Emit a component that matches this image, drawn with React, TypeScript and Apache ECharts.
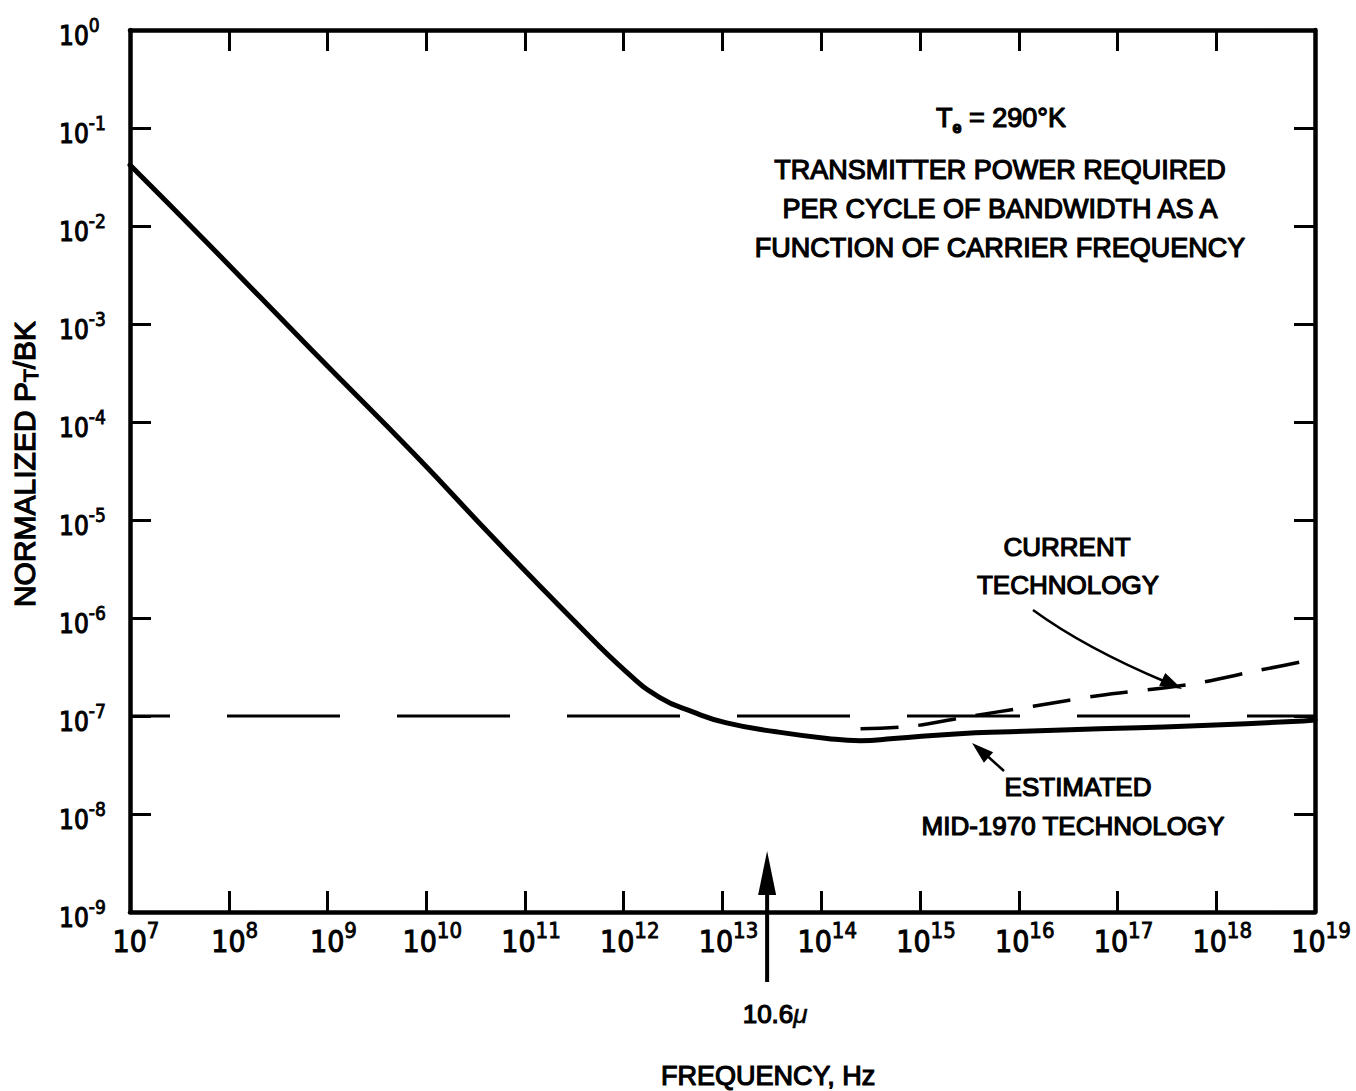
import React, { useEffect, useRef } from "react";
import * as echarts from "echarts";

// ---- data ----
const frequencyMin = 1e7;
const frequencyMax = 1e19;
const powerMin = 1e-9;
const powerMax = 1;

// Estimated mid-1970 technology (solid curve)
const estimatedFrequency = [
  1e7, 6.0e7, 7.2e8, 7.9e9, 4.7e10, 3.1e11, 1.07e12, 2.3e12, 5.0e12, 1.1e13,
  3.5e13, 1.15e14, 2.5e14, 5.4e14, 2.5e15, 8.1e15, 6.6e16, 5.4e17, 7.6e18, 1e19,
];
const estimatedPower = [
  4.2e-2, 6.8e-3, 5.2e-4, 4.5e-5, 6.7e-6, 9.5e-7, 2.8e-7, 1.55e-7, 1.1e-7, 8.5e-8,
  6.9e-8, 5.9e-8, 5.6e-8, 5.9e-8, 6.6e-8, 6.9e-8, 7.4e-8, 7.9e-8, 8.9e-8, 9.1e-8,
];

// Current technology (dashed curve)
const currentFrequency = [2.5e14, 8.5e14, 2.5e15, 1.4e16, 6.6e16, 5.4e17, 2.6e18, 1e19];
const currentPower = [7.4e-8, 7.9e-8, 9.5e-8, 1.26e-7, 1.62e-7, 2.1e-7, 2.9e-7, 3.8e-7];

// Reference level (long dashes)
const referenceFrequency = [1e7, 1e19];
const referencePower = [1e-7, 1e-7];

// 10.6 micron CO2 laser line
const co2LaserFrequency = 2.83e13;

const titleLines = [
  "TRANSMITTER POWER REQUIRED",
  "PER CYCLE OF BANDWIDTH AS A",
  "FUNCTION OF CARRIER FREQUENCY",
];

const FONT = "'Liberation Sans', Arial, sans-serif";
const NARROW =
  "'Liberation Sans Narrow', 'DejaVu Sans Condensed', 'Liberation Sans', sans-serif";

const zip = (xs: number[], ys: number[]) => xs.map((x, i) => [x, ys[i]]);
const expOf = (v: number) => Math.round(Math.log10(v));

function arrowHead(
  tip: number[],
  dir: number[],
  len: number,
  half: number
): number[][] {
  const n = Math.hypot(dir[0], dir[1]);
  const ux = dir[0] / n;
  const uy = dir[1] / n;
  const bx = tip[0] - ux * len;
  const by = tip[1] - uy * len;
  return [
    [tip[0], tip[1]],
    [bx - uy * half, by + ux * half],
    [bx + uy * half, by - ux * half],
  ];
}

export default function App() {
  const ref = useRef<HTMLDivElement>(null);

  useEffect(() => {
    const chart = echarts.init(ref.current!, null, { renderer: "svg" });

    const axisLine = { show: true, lineStyle: { color: "#000", width: 4.5 } };
    const axisTick = {
      show: true,
      inside: true,
      length: 21,
      interval: 0,
      lineStyle: { color: "#000", width: 3 },
    };

    const xLabel = {
      show: true,
      interval: 0,
      margin: 7,
      padding: [0, 0, 0, 12],
      formatter: (v: number) => `{b|10}{s|${expOf(v)}}`,
      rich: {
        b: {
          fontFamily: NARROW,
          fontSize: 30,
          lineHeight: 44,
          color: "#000",
          textBorderColor: "#000",
          textBorderWidth: 1,
        },
        s: {
          fontFamily: NARROW,
          fontSize: 22,
          lineHeight: 22,
          verticalAlign: "top",
          color: "#000",
          textBorderColor: "#000",
          textBorderWidth: 0.8,
        },
      },
    };

    const yLabel = {
      show: true,
      interval: 0,
      margin: 71,
      align: "left",
      padding: [12, 0, 0, 0],
      formatter: (v: number) => `{b|10}{s|${expOf(v)}}`,
      rich: {
        b: {
          fontFamily: NARROW,
          fontSize: 26,
          lineHeight: 42,
          color: "#000",
          textBorderColor: "#000",
          textBorderWidth: 1,
        },
        s: {
          fontFamily: NARROW,
          fontSize: 19,
          lineHeight: 19,
          verticalAlign: "top",
          color: "#000",
          textBorderColor: "#000",
          textBorderWidth: 0.8,
        },
      },
    };

    chart.setOption({
      animation: false,
      backgroundColor: "#ffffff",
      grid: { left: 130, right: 41, top: 30, bottom: 179, containLabel: false },
      xAxis: [
        {
          type: "log",
          logBase: 10,
          min: frequencyMin,
          max: frequencyMax,
          interval: 1,
          splitNumber: 12,
          position: "bottom",
          axisLine,
          axisTick,
          axisLabel: { ...xLabel, showMinLabel: true, showMaxLabel: true },
          splitLine: { show: false },
          minorTick: { show: false },
        },
        {
          type: "log",
          logBase: 10,
          min: frequencyMin,
          max: frequencyMax,
          interval: 1,
          splitNumber: 12,
          position: "top",
          axisLine,
          axisTick,
          axisLabel: { show: false },
          splitLine: { show: false },
        },
      ],
      yAxis: [
        {
          type: "log",
          logBase: 10,
          min: powerMin,
          max: powerMax,
          interval: 1,
          splitNumber: 9,
          position: "left",
          axisLine,
          axisTick,
          axisLabel: { ...yLabel, showMinLabel: true, showMaxLabel: true },
          splitLine: { show: false },
        },
        {
          type: "log",
          logBase: 10,
          min: powerMin,
          max: powerMax,
          interval: 1,
          splitNumber: 9,
          position: "right",
          axisLine,
          axisTick,
          axisLabel: { show: false },
          splitLine: { show: false },
        },
      ],
      series: [
        {
          name: "Reference",
          type: "line",
          xAxisIndex: 0,
          yAxisIndex: 0,
          data: zip(referenceFrequency, referencePower),
          showSymbol: false,
          symbol: "none",
          z: 1,
          lineStyle: {
            color: "#000",
            width: 3,
            type: [113, 57],
            dashOffset: 73,
            cap: "butt",
          },
        },
        {
          name: "Current technology",
          type: "line",
          xAxisIndex: 0,
          yAxisIndex: 0,
          data: zip(currentFrequency, currentPower),
          showSymbol: false,
          symbol: "none",
          smooth: 0.3,
          z: 2,
          lineStyle: { color: "#000", width: 3.5, type: [38, 20], cap: "butt" },
        },
        {
          name: "Estimated mid-1970 technology",
          type: "line",
          xAxisIndex: 0,
          yAxisIndex: 0,
          data: zip(estimatedFrequency, estimatedPower),
          showSymbol: false,
          symbol: "none",
          smooth: 0.5,
          z: 3,
          lineStyle: { color: "#000", width: 5, cap: "round", join: "round" },
        },
      ],
    });

    // ---- annotations ----
    const base = chart.convertToPixel({ xAxisIndex: 0, yAxisIndex: 0 }, [
      co2LaserFrequency,
      powerMin,
    ]) as number[];
    const ax = base[0];
    const yb = base[1];

    const tok = (fontSize: number, extra: any = {}) => ({
      fontFamily: FONT,
      fontSize,
      fill: "#000",
      stroke: "#000",
      lineWidth: 1.2,
      ...extra,
    });

    const txt = (x: number, y: number, text: string, fontSize: number, extra: any = {}) => ({
      type: "text",
      x,
      y,
      z: 10,
      style: {
        text,
        fontFamily: FONT,
        fontSize,
        fill: "#000",
        stroke: "#000",
        lineWidth: 1.2,
        align: "center",
        verticalAlign: "middle",
        ...extra,
      },
    });

    const currentTip = [1182, 689];
    const estimatedTip = [972, 743];

    chart.setOption({
      graphic: [
        // 10.6 micron arrow
        {
          type: "line",
          z: 10,
          shape: { x1: ax, y1: yb + 70, x2: ax, y2: yb - 25 },
          style: { stroke: "#000", lineWidth: 4 },
        },
        {
          type: "polygon",
          z: 10,
          shape: { points: arrowHead([ax, yb - 61], [0, -1], 44, 9) },
          style: { fill: "#000" },
        },
        txt(ax + 8, yb + 102, "{a|10.6}{m|μ}", 26, {
          rich: {
            a: tok(26),
            m: tok(26, { fontStyle: "italic", lineWidth: 0.5 }),
          },
        }),
        txt(ax + 1, yb + 164, "FREQUENCY, Hz", 27),
        // y axis name
        {
          type: "text",
          x: 24,
          y: 464,
          rotation: Math.PI / 2,
          z: 10,
          style: {
            text: "{a|NORMALIZED P}{s|T}{a|/BK}",
            align: "center",
            verticalAlign: "middle",
            fill: "#000",
            rich: {
              a: tok(30, { lineHeight: 34 }),
              s: tok(21, { lineHeight: 21, verticalAlign: "bottom" }),
            },
          },
        },
        // title block
        {
          type: "text",
          x: 1001,
          y: 118,
          z: 10,
          style: {
            text: "{a|T}{s|e}{a| = 290°K}",
            align: "center",
            verticalAlign: "middle",
            fill: "#000",
            rich: {
              a: tok(27, { lineHeight: 34 }),
              s: tok(16, { lineHeight: 16, verticalAlign: "bottom", fontWeight: "bold" }),
            },
          },
        },
        txt(1000, 170, titleLines[0], 27),
        txt(1000, 209, titleLines[1], 27),
        txt(1000, 248, titleLines[2], 27),
        // current technology label + leader
        txt(1067, 547, "CURRENT", 26),
        txt(1068, 585, "TECHNOLOGY", 26),
        {
          type: "bezierCurve",
          z: 10,
          shape: {
            x1: 1033,
            y1: 610,
            cpx1: 1085,
            cpy1: 648,
            x2: currentTip[0] - 16,
            y2: currentTip[1] - 7,
          },
          style: { stroke: "#000", lineWidth: 2.5, fill: "none" },
        },
        {
          type: "polygon",
          z: 10,
          shape: { points: arrowHead(currentTip, [0.9, 0.44], 22, 7) },
          style: { fill: "#000" },
        },
        // estimated label + leader
        txt(1078, 787, "ESTIMATED", 26),
        txt(1073, 826, "MID-1970 TECHNOLOGY", 26),
        {
          type: "line",
          z: 10,
          shape: {
            x1: 1004,
            y1: 771,
            x2: estimatedTip[0] + 12,
            y2: estimatedTip[1] + 10,
          },
          style: { stroke: "#000", lineWidth: 2.5 },
        },
        {
          type: "polygon",
          z: 10,
          shape: { points: arrowHead(estimatedTip, [-0.75, -0.66], 22, 7) },
          style: { fill: "#000" },
        },
      ],
    });

    return () => chart.dispose();
  }, []);

  return (
    <div
      ref={ref}
      style={{
        position: "fixed",
        left: 0,
        top: 0,
        width: 1356,
        height: 1091,
        background: "#fff",
      }}
    />
  );
}
